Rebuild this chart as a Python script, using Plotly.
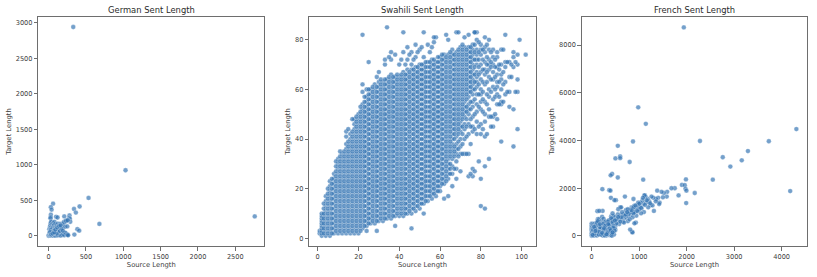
import plotly.graph_objects as go

german_x = [330,1030,2760,535,680,415,340,365,385,410,345,60,30,40,30,28,25,35,100,120,210,280,275,285,290,260,240,225,205,
5,8,10,12,15,18,20,22,25,28,30,35,38,40,45,50,52,55,60,65,68,70,75,78,80,85,88,90,95,100,105,110,115,120,125,130,135,140,145,150,155,160,165,170,175,180,185,190,195,200,210,215,220,230,235,240,250,255,260,
0,3,6,10,14,20,26,32,40,48,56,64,72,80,90,100,112,125,135,150,165,180,195,210,225,250,260,30,45,60,75,95,110,130,150,170,190,20,35,55,75,90,115,140,160]
german_y = [2940,925,275,535,170,415,380,330,95,75,20,455,405,370,300,265,250,205,270,260,275,290,255,240,200,225,220,210,200,
15,25,95,45,20,110,135,60,150,175,100,195,130,70,40,170,110,10,120,180,65,155,80,200,30,130,105,170,60,85,130,160,50,105,175,20,140,95,165,115,60,135,170,90,145,30,115,165,40,180,195,45,130,205,215,25,135,220,15,
3,8,12,5,20,10,6,15,30,8,5,12,35,10,5,40,8,12,45,10,6,15,30,10,45,20,10,85,60,40,75,55,35,90,70,105,75,55,20,35,50,90,120,140,150]

french_x = [1940,980,1140,2280,3730,4310,3290,3160,2760,2920,4180,2550,1085,550,600,600,500,870,800,430,400,550,1985,225,370,395,405,510,700,880,1990,2170,1830,1900,1960,1975,1995,1750,1680,1310,1120,840,600,230,120,
1590,1580,1520,1470,1430,1400,1380,1360,1300,1260,1240,1210,1180,1150,1130,1110,1090,1070,1050,1030,1010,990,970,950,930,910,890,870,850,830,810,790,770,750,730,710,690,670,650,630,610,590,570,550,530,510,490,470,450,430,410,390,370,350,
1500,1420,1350,1280,1230,1190,1160,1120,1100,1080,1040,1000,980,940,900,880,860,820,780,760,720,680,660,620,580,560,520,500,460,440,420,380,360,340,320,300,
1040,1000,960,920,880,840,800,760,720,680,640,600,560,520,480,440,400,360,
850,860,810,930,900,620,750,480,500,440,
0,0,0,0,0,0,0,0,10,10,10,20,20,30,30,40,40,50,50,60,60,70,70,80,90,90,100,100,110,120,120,130,140,150,150,160,170,180,190,200,200,210,220,230,240,250,250,260,270,280,290,300,300,310,320,330,340,350,360,370,380,390,400,410,420,430,440,450,460,470,480,490,
30,60,90,120,150,180,210,240,270,300,330,360,390,420,450,70,110,160,200,250,290,340,380,430,480,20,50,80,130,170,220,260,310,350,400,440]
french_y = [8740,5390,4700,3980,3970,4480,3560,3170,3300,2910,1880,2360,2360,3780,3330,3260,3250,3960,3100,2600,2540,2450,2370,1960,1920,1900,1600,1500,1650,1550,1380,1800,1700,2140,2130,1980,1900,2000,2000,1050,1700,1200,1200,1050,1040,
1850,1650,1800,1850,1400,1600,1900,1550,1600,1650,1300,1450,1550,1400,1650,1700,1350,1500,1150,1400,1250,1100,1300,1200,1050,1150,1250,1000,1150,900,1080,1000,850,1050,800,950,750,900,820,720,880,780,650,900,700,560,800,620,720,550,820,480,600,450,
1620,1340,1450,1280,1370,1200,1500,1300,1000,1600,950,1120,1400,850,1000,1200,780,1000,930,620,1080,850,600,780,500,1120,700,420,830,950,580,340,500,280,420,600,
1180,1350,1040,1280,950,1080,700,1120,900,560,1000,600,800,520,300,700,400,520,
170,150,270,560,530,1200,1000,1500,250,70,
10,120,240,360,450,520,80,290,30,400,180,500,60,340,220,20,450,120,300,520,30,190,420,70,270,500,130,350,20,550,210,700,90,430,700,1050,290,500,60,620,340,180,800,20,540,90,720,260,30,400,600,150,450,20,280,580,90,360,650,40,210,480,60,740,300,20,580,140,420,60,320,650,
260,100,430,190,60,360,120,500,30,260,80,450,190,20,350,310,560,170,60,270,430,150,310,90,220,40,380,210,620,490,130,330,70,500,240,150]

swahili_columns = {
    1: [2, 3],
    2: [1, 2, 3, 4, 5, 6, 7, 8, 9, 10],
    4: [1, 3, 5, 7, 9, 11, 13, 15, 17],
    6: [1, 3, 5, 7, 9, 11, 13, 15, 17, 19, 21, 23],
    8: [2, 4, 6, 8, 10, 12, 14, 16, 18, 20, 22, 24, 26],
    10: [2, 4, 6, 8, 10, 12, 14, 16, 18, 20, 22, 24, 26, 28, 30, 32],
    12: [2, 4, 6, 8, 10, 12, 14, 16, 18, 20, 22, 24, 26, 28, 30, 32, 34],
    14: [2, 4, 6, 8, 10, 12, 14, 16, 18, 20, 22, 24, 26, 28, 30, 32, 34, 36, 38, 41, 43],
    16: [2, 4, 6, 8, 10, 12, 14, 16, 18, 20, 22, 24, 26, 28, 30, 32, 34, 36, 38, 40, 42],
    18: [2, 4, 6, 8, 10, 12, 14, 16, 18, 20, 22, 24, 26, 28, 30, 32, 34, 36, 38, 40, 42, 44, 46, 48],
    20: [2, 4, 6, 8, 10, 12, 14, 16, 18, 20, 22, 24, 26, 28, 30, 32, 34, 36, 38, 40, 42, 44, 46, 48, 50],
    22: [4, 6, 8, 10, 12, 14, 16, 18, 20, 22, 24, 26, 28, 30, 32, 34, 36, 38, 40, 42, 44, 46, 48, 50, 52, 54, 59, 62],
    24: [5, 7, 9, 11, 13, 15, 17, 19, 21, 23, 25, 27, 29, 31, 33, 35, 37, 39, 41, 43, 45, 47, 49, 51, 53, 55, 57, 60],
    26: [6, 8, 10, 12, 14, 16, 18, 20, 22, 24, 26, 28, 30, 32, 34, 36, 38, 40, 42, 44, 46, 48, 50, 52, 54, 56, 58, 60],
    28: [6, 8, 10, 12, 14, 16, 18, 20, 22, 24, 26, 28, 30, 32, 34, 36, 38, 40, 42, 44, 46, 48, 50, 52, 54, 56, 58, 60, 62],
    30: [7, 9, 11, 13, 15, 17, 19, 21, 23, 25, 27, 29, 31, 33, 35, 37, 39, 41, 43, 45, 47, 49, 51, 53, 55, 57, 59, 61, 63, 67],
    32: [7, 9, 11, 13, 15, 17, 19, 21, 23, 25, 27, 29, 31, 33, 35, 37, 39, 41, 43, 45, 47, 49, 51, 53, 55, 57, 59, 61, 63],
    34: [8, 10, 12, 14, 16, 18, 20, 22, 24, 26, 28, 30, 32, 34, 36, 38, 40, 42, 44, 46, 48, 50, 52, 54, 56, 58, 60, 62, 64],
    36: [8, 10, 12, 14, 16, 18, 20, 22, 24, 26, 28, 30, 32, 34, 36, 38, 40, 42, 44, 46, 48, 50, 52, 54, 56, 58, 60, 62, 64, 66, 72, 75],
    38: [9, 11, 13, 15, 17, 19, 21, 23, 25, 27, 29, 31, 33, 35, 37, 39, 41, 43, 45, 47, 49, 51, 53, 55, 57, 59, 61, 63, 65],
    40: [9, 11, 13, 15, 17, 19, 21, 23, 25, 27, 29, 31, 33, 35, 37, 39, 41, 43, 45, 47, 49, 51, 53, 55, 57, 59, 61, 63, 65, 70],
    42: [9, 11, 13, 15, 17, 19, 21, 23, 25, 27, 29, 31, 33, 35, 37, 39, 41, 43, 45, 47, 49, 51, 53, 55, 57, 59, 61, 63, 65, 67, 75],
    44: [10, 12, 14, 16, 18, 20, 22, 24, 26, 28, 30, 32, 34, 36, 38, 40, 42, 44, 46, 48, 50, 52, 54, 56, 58, 60, 62, 64, 66, 68, 72, 77],
    46: [10, 12, 14, 16, 18, 20, 22, 24, 26, 28, 30, 32, 34, 36, 38, 40, 42, 44, 46, 48, 50, 52, 54, 56, 58, 60, 62, 64, 66, 68, 70, 75],
    48: [11, 13, 15, 17, 19, 21, 23, 25, 27, 29, 31, 33, 35, 37, 39, 41, 43, 45, 47, 49, 51, 53, 55, 57, 59, 61, 63, 65, 67, 69, 73, 78],
    50: [12, 14, 16, 18, 20, 22, 24, 26, 28, 30, 32, 34, 36, 38, 40, 42, 44, 46, 48, 50, 52, 54, 56, 58, 60, 62, 64, 66, 68, 70, 76],
    52: [10, 14, 16, 18, 20, 22, 24, 26, 28, 30, 32, 34, 36, 38, 40, 42, 44, 46, 48, 50, 52, 54, 56, 58, 60, 62, 64, 66, 68, 70, 73],
    54: [15, 17, 19, 21, 23, 25, 27, 29, 31, 33, 35, 37, 39, 41, 43, 45, 47, 49, 51, 53, 55, 57, 59, 61, 63, 65, 67, 69, 71, 78],
    56: [16, 18, 20, 22, 24, 26, 28, 30, 32, 34, 36, 38, 40, 42, 44, 46, 48, 50, 52, 54, 56, 58, 60, 62, 64, 66, 68, 70, 72, 77],
    58: [17, 19, 21, 23, 25, 27, 29, 31, 33, 35, 37, 39, 41, 43, 45, 47, 49, 51, 53, 55, 57, 59, 61, 63, 65, 67, 69, 71, 81],
    60: [19, 21, 23, 25, 27, 29, 31, 33, 35, 37, 39, 41, 43, 45, 47, 49, 51, 53, 55, 57, 59, 61, 63, 65, 67, 69, 71, 73],
    62: [16, 22, 24, 26, 28, 30, 32, 34, 36, 38, 40, 42, 44, 46, 48, 50, 52, 54, 56, 58, 60, 62, 64, 66, 68, 70, 72, 74],
    64: [17, 24, 26, 28, 30, 32, 34, 36, 38, 40, 42, 44, 46, 48, 50, 52, 54, 56, 58, 60, 62, 64, 66, 68, 70, 72, 74, 80],
    66: [21, 26, 29, 32, 34, 36, 38, 40, 42, 44, 46, 48, 50, 52, 54, 56, 58, 60, 62, 64, 66, 68, 70, 72, 74, 76],
    68: [24, 28, 31, 34, 36, 38, 41, 43, 45, 47, 49, 51, 53, 55, 57, 59, 61, 63, 65, 67, 69, 71, 73, 75, 83],
    70: [27, 34, 37, 40, 43, 45, 47, 49, 51, 53, 55, 57, 59, 61, 63, 65, 67, 69, 71, 73, 75, 77],
    72: [34, 40, 44, 46, 49, 51, 53, 55, 57, 59, 61, 63, 65, 67, 69, 71, 73, 75, 77, 81],
    74: [25, 34, 42, 46, 50, 52, 54, 57, 59, 61, 63, 65, 67, 69, 71, 73, 75, 77, 82],
    76: [25, 28, 43, 45, 49, 53, 55, 58, 60, 62, 64, 66, 68, 70, 72, 74, 76, 78],
    78: [42, 47, 51, 54, 58, 61, 63, 65, 67, 70, 72, 74, 76, 80, 83],
    80: [13, 24, 42, 46, 52, 55, 58, 60, 64, 67, 70, 74, 76, 78],
    82: [12, 29, 41, 47, 50, 55, 62, 66, 68, 71, 75, 77, 81],
    84: [32, 49, 52, 57, 60, 65, 68, 70, 72, 76, 80],
    86: [45, 49, 56, 61, 64, 67, 70, 73, 76],
    88: [48, 54, 58, 61, 63, 66, 69, 73, 75],
    90: [39, 54, 55, 60, 64, 66, 70, 76],
    92: [58, 63, 69, 71, 82],
    94: [53, 59, 65, 71],
    96: [37, 52, 69, 73, 75],
    98: [44, 59, 64, 70, 74],
    99: [80],
    102: [74],
}
swahili_columns_odd = {
    3: [2, 4, 6, 8, 10, 12, 14],
    5: [2, 4, 6, 8, 10, 12, 14, 16, 18, 20],
    7: [2, 4, 6, 8, 10, 12, 14, 16, 18, 20, 22, 24],
    9: [3, 5, 7, 9, 11, 13, 15, 17, 19, 21, 23, 25, 27, 29, 31],
    11: [3, 5, 7, 9, 11, 13, 15, 17, 19, 21, 23, 25, 27, 29, 31, 33, 35],
    13: [3, 5, 7, 9, 11, 13, 15, 17, 19, 21, 23, 25, 27, 29, 31, 33, 35],
    15: [3, 5, 7, 9, 11, 13, 15, 17, 19, 21, 23, 25, 27, 29, 31, 33, 35, 37, 39, 44],
    17: [3, 5, 7, 9, 11, 13, 15, 17, 19, 21, 23, 25, 27, 29, 31, 33, 35, 37, 39, 41, 43, 48],
    19: [3, 5, 7, 9, 11, 13, 15, 17, 19, 21, 23, 25, 27, 29, 31, 33, 35, 37, 39, 41, 43, 45, 47, 49],
    21: [3, 5, 7, 9, 11, 13, 15, 17, 19, 21, 23, 25, 27, 29, 31, 33, 35, 37, 39, 41, 43, 45, 47, 49, 51, 53],
    23: [5, 7, 9, 11, 13, 15, 17, 19, 21, 23, 25, 27, 29, 31, 33, 35, 37, 39, 41, 43, 45, 47, 49, 51, 53, 55, 57],
    25: [6, 8, 10, 12, 14, 16, 18, 20, 22, 24, 26, 28, 30, 32, 34, 36, 38, 40, 42, 44, 46, 48, 50, 52, 54, 56, 58, 60],
    27: [7, 9, 11, 13, 15, 17, 19, 21, 23, 25, 27, 29, 31, 33, 35, 37, 39, 41, 43, 45, 47, 49, 51, 53, 55, 57, 59, 61],
    29: [7, 9, 11, 13, 15, 17, 19, 21, 23, 25, 27, 29, 31, 33, 35, 37, 39, 41, 43, 45, 47, 49, 51, 53, 55, 57, 59, 61, 65],
    31: [8, 10, 12, 14, 16, 18, 20, 22, 24, 26, 28, 30, 32, 34, 36, 38, 40, 42, 44, 46, 48, 50, 52, 54, 56, 58, 60, 62, 64],
    33: [8, 10, 12, 14, 16, 18, 20, 22, 24, 26, 28, 30, 32, 34, 36, 38, 40, 42, 44, 46, 48, 50, 52, 54, 56, 58, 60, 62, 64, 70],
    35: [9, 11, 13, 15, 17, 19, 21, 23, 25, 27, 29, 31, 33, 35, 37, 39, 41, 43, 45, 47, 49, 51, 53, 55, 57, 59, 61, 63, 65],
    37: [9, 11, 13, 15, 17, 19, 21, 23, 25, 27, 29, 31, 33, 35, 37, 39, 41, 43, 45, 47, 49, 51, 53, 55, 57, 59, 61, 63, 65],
    39: [10, 12, 14, 16, 18, 20, 22, 24, 26, 28, 30, 32, 34, 36, 38, 40, 42, 44, 46, 48, 50, 52, 54, 56, 58, 60, 62, 64, 66],
    41: [10, 12, 14, 16, 18, 20, 22, 24, 26, 28, 30, 32, 34, 36, 38, 40, 42, 44, 46, 48, 50, 52, 54, 56, 58, 60, 62, 64, 66, 72],
    43: [10, 12, 14, 16, 18, 20, 22, 24, 26, 28, 30, 32, 34, 36, 38, 40, 42, 44, 46, 48, 50, 52, 54, 56, 58, 60, 62, 64, 66, 70],
    45: [11, 13, 15, 17, 19, 21, 23, 25, 27, 29, 31, 33, 35, 37, 39, 41, 43, 45, 47, 49, 51, 53, 55, 57, 59, 61, 63, 65, 67, 74],
    47: [12, 14, 16, 18, 20, 22, 24, 26, 28, 30, 32, 34, 36, 38, 40, 42, 44, 46, 48, 50, 52, 54, 56, 58, 60, 62, 64, 66, 68, 72],
    49: [13, 15, 17, 19, 21, 23, 25, 27, 29, 31, 33, 35, 37, 39, 41, 43, 45, 47, 49, 51, 53, 55, 57, 59, 61, 63, 65, 67, 69, 75],
    51: [14, 16, 18, 20, 22, 24, 26, 28, 30, 32, 34, 36, 38, 40, 42, 44, 46, 48, 50, 52, 54, 56, 58, 60, 62, 64, 66, 68, 70, 77],
    53: [15, 17, 19, 21, 23, 25, 27, 29, 31, 33, 35, 37, 39, 41, 43, 45, 47, 49, 51, 53, 55, 57, 59, 61, 63, 65, 67, 69, 71],
    55: [17, 19, 21, 23, 25, 27, 29, 31, 33, 35, 37, 39, 41, 43, 45, 47, 49, 51, 53, 55, 57, 59, 61, 63, 65, 67, 69, 71, 75],
    57: [18, 20, 22, 24, 26, 28, 30, 32, 34, 36, 38, 40, 42, 44, 46, 48, 50, 52, 54, 56, 58, 60, 62, 64, 66, 68, 70, 72, 79],
    59: [19, 21, 23, 25, 27, 29, 31, 33, 35, 37, 39, 41, 43, 45, 47, 49, 51, 53, 55, 57, 59, 61, 63, 65, 67, 69, 71, 73],
    61: [22, 24, 26, 28, 30, 32, 34, 36, 38, 40, 42, 44, 46, 48, 50, 52, 54, 56, 58, 60, 62, 64, 66, 68, 70, 72, 74],
    63: [23, 25, 27, 29, 31, 33, 35, 37, 39, 41, 43, 45, 47, 49, 51, 53, 55, 57, 59, 61, 63, 65, 67, 69, 71, 73],
    65: [26, 28, 30, 33, 35, 37, 39, 41, 43, 45, 47, 49, 51, 53, 55, 57, 59, 61, 63, 65, 67, 69, 71, 73, 75],
    67: [28, 33, 35, 37, 40, 42, 44, 46, 48, 50, 52, 54, 56, 58, 60, 62, 64, 66, 68, 70, 72, 74],
    69: [33, 36, 39, 42, 44, 46, 48, 50, 52, 54, 56, 58, 60, 62, 64, 66, 68, 70, 72, 74, 76],
    71: [34, 38, 42, 45, 48, 50, 52, 54, 56, 58, 60, 62, 64, 66, 68, 70, 72, 74, 76, 78],
    73: [34, 41, 45, 48, 51, 53, 56, 58, 60, 62, 64, 66, 68, 70, 72, 74, 76],
    75: [26, 38, 45, 48, 52, 55, 59, 61, 63, 65, 67, 69, 71, 73, 75, 77],
    77: [27, 44, 50, 56, 60, 63, 66, 69, 72, 75, 78, 83],
    79: [31, 45, 53, 58, 62, 66, 69, 72, 75, 79],
    81: [44, 51, 56, 59, 63, 68, 72, 76],
    83: [42, 54, 58, 63, 67, 70, 73, 78],
    85: [45, 49, 59, 64, 69, 71, 75],
    87: [50, 57, 60, 65, 69, 72],
    89: [54, 57, 63, 68, 70],
    91: [55, 62, 67, 76],
    93: [71, 59],
    95: [70, 65],
    97: [59, 71],
}
swahili_extra_x = [22, 25, 34, 42, 52, 33, 35, 38, 46, 38, 29, 24, 57, 63, 69, 77]
swahili_extra_y = [82, 71, 85, 83, 83, 72, 73, 74, 4, 5, 3, 3, 81, 82, 83, 83]

swahili_all = {**swahili_columns, **swahili_columns_odd}
swahili_x = [x for x, ys in swahili_all.items() for _ in ys] + swahili_extra_x
swahili_y = [y for ys in swahili_all.values() for y in ys] + swahili_extra_y

titles = ["German Sent Length", "Swahili Sent Length", "French Sent Length"]
x_ticks = [[0, 500, 1000, 1500, 2000, 2500], [0, 20, 40, 60, 80, 100], [0, 1000, 2000, 3000, 4000]]
y_ticks = [[0, 500, 1000, 1500, 2000, 2500, 3000], [0, 20, 40, 60, 80], [0, 2000, 4000, 6000, 8000]]
x_ranges = [[-138, 2888], [-4.1, 106.9], [-210, 4540]]
y_ranges = [[-145, 3085], [-3.2, 89.3], [-433, 9190]]
series = [(german_x, german_y), (swahili_x, swahili_y), (french_x, french_y)]

W, H = 817, 277
x_domains = [(38.3, 264.3), (309.3, 535.7), (581.7, 807.3)]
y_domain = [1 - 246.3 / H, 1 - 16.7 / H]
TEXT = "#3d3d3d"
FRAME = "#6e6e6e"

fig = go.Figure()
for i, (xs, ys) in enumerate(series):
    suffix = "" if i == 0 else str(i + 1)
    fig.add_trace(go.Scatter(
        x=xs, y=ys, mode="markers", xaxis="x" + suffix, yaxis="y" + suffix, showlegend=False,
        marker=dict(size=4.8, color="rgba(50,115,178,0.68)", line=dict(color="rgba(255,255,255,0.7)", width=0.4)),
    ))
    axis = dict(showgrid=False, zeroline=False, showline=True, mirror=True, linecolor=FRAME, linewidth=1,
                ticks="outside", ticklen=3.5, tickwidth=0.7, tickcolor=FRAME,
                tickfont=dict(family="DejaVu Sans", size=6.6, color=TEXT))
    title_font = dict(family="DejaVu Sans", size=6.8, color=TEXT)
    fig.layout["xaxis" + suffix] = dict(
        axis, domain=[x_domains[i][0] / W, x_domains[i][1] / W], range=x_ranges[i],
        tickvals=x_ticks[i], title=dict(text="Source Length", font=title_font, standoff=1),
        anchor="y" + suffix)
    fig.layout["yaxis" + suffix] = dict(
        axis, domain=y_domain, range=y_ranges[i],
        tickvals=y_ticks[i], title=dict(text="Target Length", font=title_font, standoff=3),
        anchor="x" + suffix)
    fig.add_annotation(text=titles[i], xref="paper", yref="paper", showarrow=False,
                       x=sum(x_domains[i]) / 2 / W, y=1 - 9.5 / H, xanchor="center", yanchor="middle",
                       font=dict(family="DejaVu Sans", size=8.4, color="#2a2a2a"))

fig.update_layout(width=W, height=H, margin=dict(l=0, r=0, t=0, b=0),
                  paper_bgcolor="white", plot_bgcolor="white")
fig.write_html("out.html", post_script="document.body.style.margin='0';",
               config={"displayModeBar": False})
